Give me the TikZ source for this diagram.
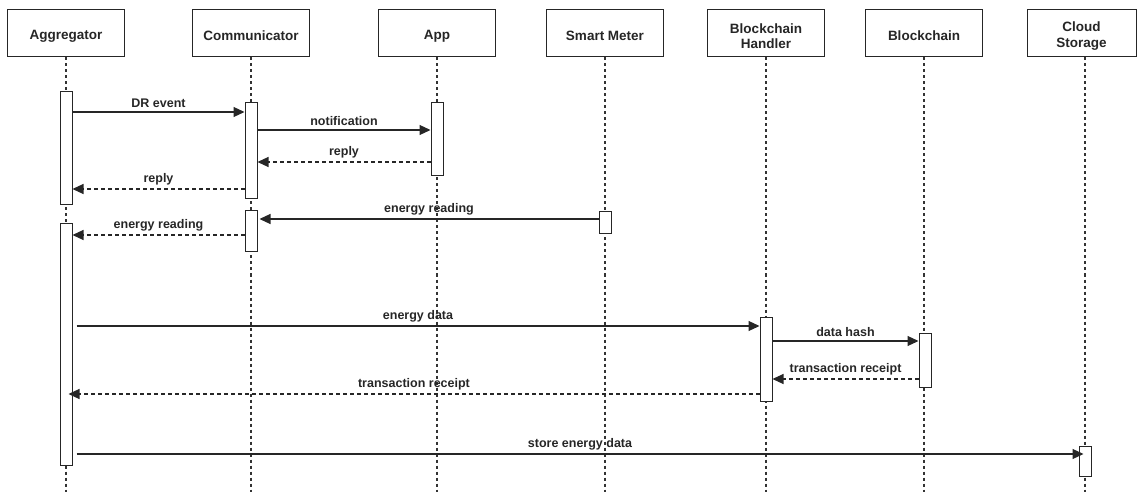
\documentclass[tikz,border=0pt]{standalone}
\usepackage{fontspec}
\setmainfont{Liberation Sans}
\usetikzlibrary{arrows.meta}

\tikzset{
  actortext/.style={align=center, inner sep=0pt, yshift=-2.5pt,
    font=\fontsize{13.5pt}{15.5pt}\selectfont\bfseries, text=black!85},
  actor/.style={draw=black!85, fill=white, line width=1pt, minimum width=117pt,
    minimum height=47pt, inner sep=0pt, label={[actortext]center:#1}},
  lifeline/.style={draw=black!80, line width=1.1pt, dash pattern=on 3pt off 3pt},
  bar/.style={draw=black!85, fill=white, line width=1pt, minimum width=12pt,
    inner sep=0pt},
  msg/.style={draw=black!85, line width=1.1pt, -{Triangle[length=11pt,width=10pt]}},
  ret/.style={msg, dash pattern=on 3.5pt off 3.5pt},
  lbl/.style={above, inner sep=0pt, yshift=3.5pt,
    font=\fontsize{12.5pt}{14pt}\selectfont\bfseries, text=black!85}
}

\begin{document}
\begin{tikzpicture}[x=1pt, y=-1pt]
\useasboundingbox (0,0) rectangle (1137,494);

% participants
\node[actor={Aggregator}]          (agg) at (66,33.5)  {};
\node[actor={Communicator}]        (com) at (251,33.5) {};
\node[actor={App}]                 (app) at (437,33.5) {};
\node[actor={Smart Meter}]         (sm)  at (605,33.5) {};
\node[actor={Blockchain\\Handler}] (bh)  at (766,33.5) {};
\node[actor={Blockchain}]          (bc)  at (924,33.5) {};
\node[actor={Cloud\\Storage}, minimum width=109pt] (cs) at (1081.5,33.5) {};

% lifeline ends
\coordinate (aggE) at (66,492);
\coordinate (comE) at (251,492);
\coordinate (appE) at (437,492);
\coordinate (smE)  at (605,492);
\coordinate (bhE)  at (766,492);
\coordinate (bcE)  at (924,492);
\coordinate (csE)  at (1085,492);

\draw[lifeline] (agg.south) -- (aggE);
\draw[lifeline] (com.south) -- (comE);
\draw[lifeline] (app.south) -- (appE);
\draw[lifeline] (sm.south)  -- (smE);
\draw[lifeline] (bh.south)  -- (bhE);
\draw[lifeline] (bc.south)  -- (bcE);
\draw[lifeline] (cs.south -| csE) -- (csE);

% activation bars
\node[bar, minimum height=113pt] (agg1) at (66,148.5)  {};
\node[bar, minimum height=241pt] (agg2) at (66,344.5)  {};
\node[bar, minimum height=96pt]  (com1) at (251,151)   {};
\node[bar, minimum height=41pt]  (com2) at (251,231.5) {};
\node[bar, minimum height=73pt]  (app1) at (437,139.5) {};
\node[bar, minimum height=22pt]  (sm1)  at (605,223)   {};
\node[bar, minimum height=84pt]  (bh1)  at (766,359)   {};
\node[bar, minimum height=54pt]  (bc1)  at (925,360)   {};
\node[bar, minimum height=30pt]  (cs1)  at (1085,461)  {};

% messages
\draw[msg] (agg1.east |- 0,112) -- node[lbl] {DR event} (com1.west |- 0,112);
\draw[msg] (com1.east |- 0,130) -- node[lbl] {notification} (app1.west |- 0,130);
\draw[ret] (app1.west |- 0,162) -- node[lbl] {reply} (com1.east |- 0,162);
\draw[ret] (com1.west |- 0,189) -- node[lbl] {reply} (agg1.east |- 0,189);
\draw[msg] (sm1.west |- 0,219) -- node[lbl] {energy reading} ([xshift=2pt]com2.east |- 0,219);
\draw[ret] (com2.west |- 0,235) -- node[lbl] {energy reading} (agg2.east |- 0,235);
\draw[msg] ([xshift=4pt]agg2.east |- 0,326) -- node[lbl] {energy data} (bh1.west |- 0,326);
\draw[msg] (bh1.east |- 0,341) -- node[lbl] {data hash} (bc1.west |- 0,341);
\draw[ret] (bc1.west |- 0,379) -- node[lbl] {transaction receipt} (bh1.east |- 0,379);
\draw[ret] (bh1.west |- 0,394) -- node[lbl] {transaction receipt} ([xshift=-4pt]agg2.east |- 0,394);
\draw[msg] ([xshift=4pt]agg2.east |- 0,454) -- node[lbl] {store energy data} ([xshift=5pt]cs1.west |- 0,454);
\end{tikzpicture}
\end{document}
